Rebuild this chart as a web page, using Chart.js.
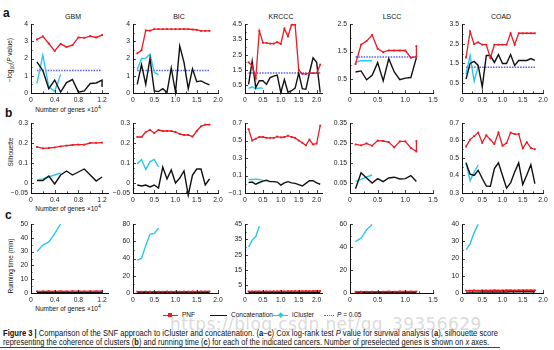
<!DOCTYPE html>
<html>
<head>
<meta charset="utf-8">
<script src="https://cdn.jsdelivr.net/npm/chart.js@4.4.0/dist/chart.umd.min.js"></script>
<style>
body{margin:0;width:554px;height:350px;background:#fff;position:relative;overflow:hidden;font-family:"Liberation Sans",Arial,sans-serif;color:#111;}
canvas{position:absolute;}
.t{position:absolute;white-space:nowrap;line-height:1;}
.ttl{font-size:7px;transform:translateX(-50%);}
.ylab{font-size:6.5px;transform:translate(-50%,-50%) rotate(-90deg);}
.xlab{font-size:6.5px;transform:translateX(-50%);}
.let{font-size:12px;font-weight:bold;}
.lg{font-size:6.5px;}
.sw{position:absolute;height:0;}
.cap{position:absolute;white-space:nowrap;font-family:"Liberation Sans Narrow","Liberation Sans",Arial,sans-serif;font-size:8.5px;line-height:1;transform-origin:0 0;color:#111;}
.wm{position:absolute;white-space:nowrap;font-family:"DejaVu Sans",sans-serif;font-size:17px;color:rgba(160,160,160,0.4);letter-spacing:0.4px;}
</style>
</head>
<body>

<div class="t let" style="left:3px;top:7px">a</div>
<div class="t let" style="left:5px;top:107px">b</div>
<div class="t let" style="left:5px;top:209px">c</div>

<div class="t ttl" style="left:73px;top:13px">GBM</div>
<div class="t ttl" style="left:179px;top:13px">BIC</div>
<div class="t ttl" style="left:281px;top:13px">KRCCC</div>
<div class="t ttl" style="left:392px;top:13px">LSCC</div>
<div class="t ttl" style="left:501px;top:13px">COAD</div>

<div class="t ylab" style="left:11px;top:60px">−log<sub style="font-size:5px">10</sub>(<i>P</i> value)</div>
<div class="t ylab" style="left:11px;top:152px">Silhouette</div>
<div class="t ylab" style="left:11px;top:266px">Running time (min)</div>

<div class="t xlab" style="left:68px;top:105px">Number of genes ×10<sup style="font-size:5px">4</sup></div>
<div class="t xlab" style="left:68px;top:204px">Number of genes ×10<sup style="font-size:5px">4</sup></div>
<div class="t xlab" style="left:68px;top:304px">Number of genes ×10<sup style="font-size:5px">4</sup></div>

<div class="sw" style="left:163px;top:315px;width:15px;border-top:1.3px solid rgb(236,28,36)"></div>
<div class="sw" style="left:168px;top:313px;width:4px;height:4px;background:rgb(236,28,36)"></div>
<div class="t lg" style="left:182px;top:312px">PNF</div>
<div class="sw" style="left:210px;top:315px;width:17px;border-top:1.3px solid #111"></div>
<div class="t lg" style="left:231px;top:312px">Concatenation</div>
<div class="sw" style="left:273px;top:315px;width:15px;border-top:1.3px solid rgb(41,200,238)"></div>
<div class="sw" style="left:278.5px;top:313px;width:3.5px;height:3.5px;background:rgb(41,200,238);transform:rotate(45deg)"></div>
<div class="t lg" style="left:292px;top:312px">iCluster</div>
<div class="sw" style="left:324px;top:315px;width:10px;border-top:1.5px dotted rgb(90,90,235)"></div>
<div class="t lg" style="left:337px;top:312px"><i>P</i> = 0.05</div>

<div class="cap" id="cap1" style="left:3px;top:329px"><b>Figure 3 |</b> Comparison of the SNF approach to iCluster and concatenation. (<b>a</b>–<b>c</b>) Cox log-rank test <i>P</i> value for survival analysis (<b>a</b>), silhouette score</div>
<div class="cap" id="cap2" style="left:3px;top:338px">representing the coherence of clusters (<b>b</b>) and running time (<b>c</b>) for each of the indicated cancers. Number of preselected genes is shown on <i>x</i> axes.</div>
<div class="wm" style="left:170px;top:314px">https://blog.csdn.net/qq_39356629</div>
<div class="sw" style="left:0;top:347px;width:500px;border-top:1px solid #444"></div>

<script>
// genes (x10^4) for each cancer
const xGBM = [0.1,0.2,0.3,0.4,0.5,0.6,0.7,0.8,0.9,1.0,1.1,1.2];
const xBIC = [0.1,0.2,0.3,0.4,0.5,0.6,0.7,0.8,0.9,1.0,1.1,1.2,1.3,1.4,1.5,1.6,1.7,1.8];
const xKRCCC = [0.1,0.2,0.3,0.4,0.5,0.6,0.7,0.8,0.9,1.0,1.1,1.2,1.3,1.4,1.5,1.6,1.7,1.8,1.9,2.0,2.1];
const xLSCC = [0.1,0.2,0.3,0.4,0.5,0.6,0.7,0.8,0.9,1.0,1.1,1.2];
const xCOAD = [0.1,0.2,0.3,0.4,0.5,0.6,0.7,0.8,0.9,1.0,1.1,1.2,1.3,1.4,1.5,1.6,1.7,1.8];
const xConcatLogpGBM = [0.1,0.2,0.3,0.4,0.5,0.6,0.7,0.8,0.9,1.0,1.1,1.2,1.2];
const xPnfLSCC = [0.1,0.2,0.3,0.4,0.5,0.6,0.7,0.8,0.9,1.0,1.1,1.2,1.2];
const xIcGBM = [0.1,0.2,0.3,0.4,0.5];
const xIcBIC = [0.1,0.2,0.3,0.4,0.5,0.6];
const xIcKRCCC = [0.1,0.2,0.3,0.4,0.5];
const xIcKRCCCtime = [0.1,0.2,0.3,0.4];
const xIcLSCC = [0.1,0.2,0.3,0.4];
const xIcCOAD = [0.1,0.2,0.3,0.4];

// a: -log10(P value)
const pnfLogpGBM = [3.1,3.28,2.87,2.44,2.85,2.67,2.77,3.22,3.2,3.3,3.22,3.36];
const concatLogpGBM = [1.8,1.3,0.25,0.75,0.05,0.6,0.78,0.05,0.12,0.55,0.58,0.75,0.35];
const icLogpGBM = [0.55,2.2,0.35,0.1,1.08];
const pnfLogpBIC = [2.3,2.47,3.63,3.62,3.7,3.7,3.7,3.7,3.7,3.7,3.7,3.72,3.7,3.68,3.66,3.6,3.6,3.6];
const concatLogpBIC = [0.5,1.65,0.5,2.0,0.12,0.08,0.25,0.03,1.45,0.04,2.72,1.78,0.25,1.4,0.65,0.7,0.57,0.47];
const icLogpBIC = [1.35,2.0,2.02,2.25,1.2,1.05];
const pnfLogpKRCCC = [2.0,1.78,0.95,4.05,3.28,3.27,3.22,3.22,3.32,3.2,4.2,3.7,4.45,4.45,1.5,1.25,1.25,1.3,1.3,1.3,1.85];
const concatLogpKRCCC = [0.56,2.08,0.35,0.8,0.8,0.56,1.0,1.1,1.17,0.03,0.88,0.05,0.15,0.32,1.3,0.28,0.24,1.32,2.3,2.0,0.03];
const icLogpKRCCC = [0.3,0.4,0.27,0.33,0.32];
const pnfLogpLSCC = [1.05,1.75,1.88,2.1,1.6,1.48,1.54,1.54,1.54,1.54,1.28,1.32,1.7];
const concatLogpLSCC = [0.76,0.8,0.48,0.64,1.1,0.44,1.24,0.76,0.48,0.54,0.56,1.28];
const icLogpLSCC = [1.12,1.17,1.17,1.17];
const pnfLogpCOAD = [1.8,3.12,2.48,2.57,2.45,2.45,1.78,2.45,2.45,2.45,2.45,3.03,2.45,3.03,3.03,3.03,3.03,3.03];
const concatLogpCOAD = [0.7,1.5,1.6,1.4,0.3,1.9,1.9,1.55,1.95,1.5,1.5,1.95,1.4,1.65,1.65,1.65,1.75,1.65];
const icLogpCOAD = [0.95,1.9,0.6,1.35];
const pThreshold = 1.301; // -log10(0.05)

// b: silhouette
const pnfSilGBM = [0.181,0.173,0.175,0.178,0.183,0.187,0.19,0.192,0.192,0.2,0.201,0.202];
const concatSilGBM = [0.012,0.012,0.035,-0.005,0.04,0.06,0.04,0.055,0.07,0.04,0.01,0.03];
const icSilGBM = [0.015,0.02,0.03,0.04,0.05];
const pnfSilBIC = [0.23,0.23,0.255,0.265,0.25,0.265,0.26,0.26,0.26,0.255,0.245,0.24,0.24,0.232,0.26,0.283,0.292,0.292];
const concatSilBIC = [-0.01,-0.015,-0.01,-0.02,-0.01,-0.025,0.08,0.02,0.065,0.0,0.025,0.06,-0.06,0.04,0.07,0.07,-0.01,0.02];
const icSilBIC = [0.095,0.118,0.068,0.106,0.118,0.081];
const pnfSilKRCCC = [0.63,0.5,0.52,0.54,0.54,0.53,0.53,0.53,0.545,0.535,0.54,0.555,0.54,0.53,0.5,0.475,0.445,0.51,0.455,0.465,0.67];
const concatSilKRCCC = [0.02,0.025,0.0,0.02,0.035,0.045,0.03,0.03,0.025,-0.01,0.015,0.03,0.015,0.01,-0.005,-0.02,0.01,0.04,0.04,0.015,0.0];
const icSilKRCCC = [0.055,0.055,0.058,0.055,0.045];
const pnfSilLSCC = [0.243,0.238,0.248,0.236,0.262,0.26,0.255,0.228,0.258,0.258,0.225,0.208,0.26];
const concatSilLSCC = [0.021,0.101,0.075,0.05,0.072,0.057,0.075,0.079,0.07,0.072,0.087,0.058];
const icSilLSCC = [0.058,0.068,0.08,0.09];
const pnfSilCOAD = [0.565,0.605,0.625,0.645,0.587,0.63,0.605,0.58,0.645,0.57,0.585,0.645,0.637,0.637,0.555,0.59,0.557,0.55];
const concatSilCOAD = [0.472,0.407,0.4,0.43,0.383,0.34,0.338,0.44,0.472,0.4,0.328,0.357,0.42,0.472,0.348,0.403,0.462,0.354];
const icSilCOAD = [0.475,0.37,0.42,0.46];

// c: running time (min)
const pnfTimeGBM = [1.2,1.2,1.3,1.2,1.3,1.2,1.3,1.3,1.2,1.3,1.3,1.3];
const concatTimeGBM = [0.3,0.3,0.3,0.3,0.4,0.4,0.4,0.4,0.4,0.4,0.5,0.5];
const icTimeGBM = [30,34.7,37,43,50];
const pnfTimeBIC = [1.5,1.5,1.6,1.5,1.6,1.6,1.6,1.7,1.6,1.7,1.7,1.7,1.7,1.8,1.7,1.8,1.8,1.8];
const concatTimeBIC = [0.4,0.4,0.4,0.5,0.5,0.5,0.5,0.5,0.6,0.6,0.6,0.6,0.6,0.7,0.7,0.7,0.7,0.7];
const icTimeBIC = [38,40,55,68,69,75];
const pnfTimeKRCCC = [1.0,1.0,1.0,1.1,1.0,1.1,1.1,1.1,1.1,1.2,1.1,1.2,1.2,1.2,1.2,1.2,1.3,1.2,1.3,1.3,1.3];
const concatTimeKRCCC = [0.3,0.3,0.3,0.3,0.3,0.4,0.4,0.4,0.4,0.4,0.4,0.4,0.5,0.5,0.5,0.5,0.5,0.5,0.5,0.5,0.5];
const icTimeKRCCC = [30,34.5,36.8,43.5];
const pnfTimeLSCC = [1.1,1.1,1.2,1.2,1.2,1.2,1.3,1.2,1.3,1.3,1.3,1.3];
const concatTimeLSCC = [0.3,0.3,0.3,0.4,0.4,0.4,0.4,0.4,0.4,0.5,0.5,0.5];
const icTimeLSCC = [44.7,47.8,55,59.5];
const pnfTimeCOAD = [1.4,1.4,1.5,1.4,1.5,1.5,1.5,1.6,1.5,1.5,1.6,1.6,1.5,1.6,1.6,1.6,1.6,1.6];
const concatTimeCOAD = [0.5,0.5,0.5,0.5,0.6,0.6,0.6,0.6,0.6,0.6,0.6,0.7,0.7,0.7,0.7,0.7,0.7,0.7];
const icTimeCOAD = [25,28.5,35,39.8];

// ticks
const xTicksGBM = [0,0.4,0.8,1.2];
const xTicksWide = [0,0.5,1.0,1.5,2.0];
const xTicksLSCC = [0,0.5,1.0,1.5];
const yTicksLogp = [[0,1,2,3,4],[0,1,2,3,4],[0.5,1.5,2.5,3.5,4.5],[0.5,1.5,2.5],[0.5,1.5,2.5,3.5]];
const yTicksSil = [[-0.05,0,0.1,0.2,0.3],[-0.05,0,0.1,0.2,0.3],[-0.1,0.1,0.3,0.5,0.7],[0.05,0.15,0.25,0.35],[0.3,0.4,0.5,0.6,0.7]];
const yTicksTime = [[0,10,20,30,40,50],[0,20,40,60,80],[5,15,25,35,45],[0,20,40,60],[0,10,20,30,40]];

const RED = 'rgb(236,28,36)', BLACK = '#111', CYAN = 'rgb(41,200,238)', BLUE = 'rgb(90,90,235)';

// layout: plot boxes in page pixels
const COLS = [{x0:31,x1:108,xmax:1.3,xt:xTicksGBM},{x0:133,x1:218,xmax:2.0,xt:xTicksWide},
              {x0:245,x1:322,xmax:2.15,xt:xTicksWide},{x0:350,x1:433,xmax:1.5,xt:xTicksLSCC},
              {x0:462,x1:543,xmax:2.0,xt:xTicksWide}];
const ROWS = [{top:24,bottom:93},{top:123,bottom:193},{top:224,bottom:293}];
const YL = 30, PT = 8, PR = 10, XH = 14;

function pts(xs, ys){ return xs.map((x,i) => ({x:x, y:ys[i]})); }
function pnf(xs, ys){ return {data:pts(xs,ys), borderColor:RED, backgroundColor:RED, borderWidth:1.3, pointStyle:'rect', pointRadius:1.3, pointBorderWidth:0, clip:false}; }
function concat(xs, ys){ return {data:pts(xs,ys), borderColor:BLACK, borderWidth:1.4, pointRadius:0, clip:false}; }
function icl(xs, ys){ return {data:pts(xs,ys), borderColor:CYAN, borderWidth:1.4, pointRadius:0, clip:false}; }
function pline(xs){ return {data:[{x:xs[0],y:pThreshold},{x:xs[xs.length-1],y:pThreshold}], borderColor:BLUE, borderWidth:1.5, borderDash:[1.5,1.2], pointRadius:0, clip:false}; }

function fmtX(v){ return v === 0 ? '0' : v.toFixed(1); }
function fmtY(v){ return String(+v.toFixed(3)).replace('-', '\u2212'); }

const tickMarks = {
  id:'tickMarks',
  afterDraw(chart){
    const ctx = chart.ctx, a = chart.chartArea;
    ctx.save();
    ctx.strokeStyle = '#111'; ctx.lineWidth = 0.8;
    ctx.beginPath();
    ['x','y'].forEach(k => {
      const s = chart.scales[k], vals = s.ticks.map(t => t.value);
      const step = vals[1] - vals[0];
      let v0 = vals[0] - step/2;
      while (v0 - step/2 >= s.min) v0 -= step/2;
      for (let v = v0; v <= s.max + 1e-9; v += step/2) {
        if (v < s.min - 1e-9) continue;
        const major = vals.some(t => Math.abs(t - v) < 1e-9);
        const len = major ? 3 : 1.6;
        const p = Math.round(s.getPixelForValue(v)) + 0.5;
        if (k === 'x') { ctx.moveTo(p, a.bottom); ctx.lineTo(p, a.bottom - len); }
        else { ctx.moveTo(a.left, p); ctx.lineTo(a.left + len, p); }
      }
    });
    ctx.stroke();
    ctx.restore();
  }
};

function panel(row, col, ymin, ymax, yt, datasets){
  const c = COLS[col], r = ROWS[row];
  const cv = document.createElement('canvas');
  const w = YL + (c.x1 - c.x0) + PR, h = PT + (r.bottom - r.top) + XH;
  cv.width = w; cv.height = h;
  cv.style.left = (c.x0 - YL) + 'px'; cv.style.top = (r.top - PT) + 'px';
  document.body.appendChild(cv);
  const font = {family:'"Liberation Sans", Arial, sans-serif', size:6.8};
  new Chart(cv, {
    type:'line',
    data:{datasets:datasets},
    options:{
      responsive:false, animation:false, events:[],
      layout:{padding:{top:PT, right:PR, left:0, bottom:0}},
      plugins:{legend:{display:false}, tooltip:{enabled:false}},
      elements:{line:{tension:0}},
      scales:{
        x:{type:'linear', min:0, max:c.xmax,
           grid:{display:false, drawTicks:false}, border:{color:'#111', width:1},
           ticks:{font:font, color:'#222', padding:3, maxRotation:0, autoSkip:false, callback:fmtX},
           afterBuildTicks:s => { s.ticks = c.xt.map(v => ({value:v})); },
           afterFit:s => { s.height = XH; }},
        y:{type:'linear', min:ymin, max:ymax,
           grid:{display:false, drawTicks:false}, border:{color:'#111', width:1},
           ticks:{font:font, color:'#222', padding:3, autoSkip:false, callback:fmtY},
           afterBuildTicks:s => { s.ticks = yt.map(v => ({value:v})); },
           afterFit:s => { s.width = YL; }}
      }
    },
    plugins:[tickMarks]
  });
}

// row a
panel(0,0,0,4,yTicksLogp[0],[pnf(xGBM,pnfLogpGBM),concat(xConcatLogpGBM,concatLogpGBM),icl(xIcGBM,icLogpGBM),pline(xGBM)]);
panel(0,1,0,4,yTicksLogp[1],[pnf(xBIC,pnfLogpBIC),concat(xBIC,concatLogpBIC),icl(xIcBIC,icLogpBIC),pline(xBIC)]);
panel(0,2,0,4.5,yTicksLogp[2],[pnf(xKRCCC,pnfLogpKRCCC),concat(xKRCCC,concatLogpKRCCC),icl(xIcKRCCC,icLogpKRCCC),pline(xKRCCC)]);
panel(0,3,0,2.5,yTicksLogp[3],[pnf(xPnfLSCC,pnfLogpLSCC),concat(xLSCC,concatLogpLSCC),icl(xIcLSCC,icLogpLSCC),pline(xLSCC)]);
panel(0,4,0,3.5,yTicksLogp[4],[pnf(xCOAD,pnfLogpCOAD),concat(xCOAD,concatLogpCOAD),icl(xIcCOAD,icLogpCOAD),pline(xCOAD)]);
// row b
panel(1,0,-0.05,0.3,yTicksSil[0],[pnf(xGBM,pnfSilGBM),concat(xGBM,concatSilGBM),icl(xIcGBM,icSilGBM)]);
panel(1,1,-0.05,0.3,yTicksSil[1],[pnf(xBIC,pnfSilBIC),concat(xBIC,concatSilBIC),icl(xIcBIC,icSilBIC)]);
panel(1,2,-0.1,0.7,yTicksSil[2],[pnf(xKRCCC,pnfSilKRCCC),concat(xKRCCC,concatSilKRCCC),icl(xIcKRCCC,icSilKRCCC)]);
panel(1,3,0,0.35,yTicksSil[3],[pnf(xPnfLSCC,pnfSilLSCC),concat(xLSCC,concatSilLSCC),icl(xIcLSCC,icSilLSCC)]);
panel(1,4,0.3,0.7,yTicksSil[4],[pnf(xCOAD,pnfSilCOAD),concat(xCOAD,concatSilCOAD),icl(xIcCOAD,icSilCOAD)]);
// row c
panel(2,0,0,50,yTicksTime[0],[pnf(xGBM,pnfTimeGBM),concat(xGBM,concatTimeGBM),icl(xIcGBM,icTimeGBM)]);
panel(2,1,0,80,yTicksTime[1],[pnf(xBIC,pnfTimeBIC),concat(xBIC,concatTimeBIC),icl(xIcBIC,icTimeBIC)]);
panel(2,2,0,45,yTicksTime[2],[pnf(xKRCCC,pnfTimeKRCCC),concat(xKRCCC,concatTimeKRCCC),icl(xIcKRCCCtime,icTimeKRCCC)]);
panel(2,3,0,60,yTicksTime[3],[pnf(xLSCC,pnfTimeLSCC),concat(xLSCC,concatTimeLSCC),icl(xIcLSCC,icTimeLSCC)]);
panel(2,4,0,40,yTicksTime[4],[pnf(xCOAD,pnfTimeCOAD),concat(xCOAD,concatTimeCOAD),icl(xIcCOAD,icTimeCOAD)]);

// stretch caption lines to the printed width
[['cap1',495],['cap2',486]].forEach(([id, target]) => {
  const el = document.getElementById(id);
  const w = el.getBoundingClientRect().width;
  el.style.transform = 'scaleX(' + (target / w) + ')';
});
</script>
</body>
</html>
